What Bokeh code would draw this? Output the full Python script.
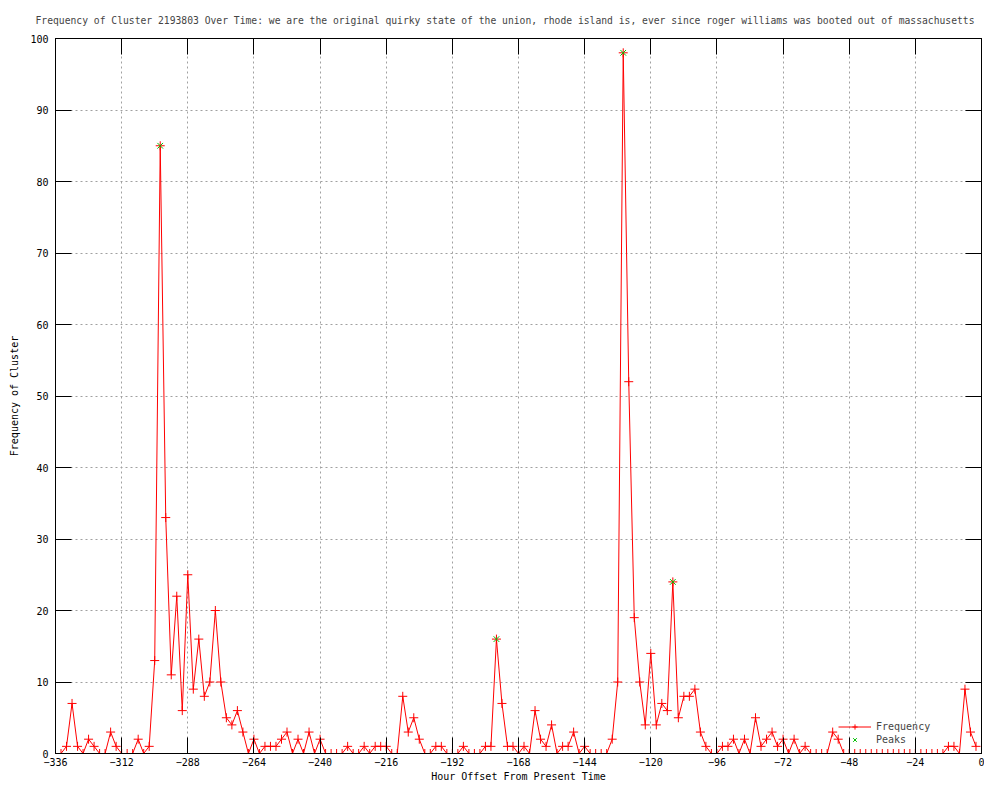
from bokeh.plotting import figure
from bokeh.models import FixedTicker, LinearAxis, Legend, LegendItem, Range1d
from bokeh.embed import file_html
from bokeh.resources import INLINE

TITLE = ("Frequency of Cluster 2193803 Over Time: we are the original quirky state of the union, "
         "rhode island is, ever since roger williams was booted out of massachusetts")

# data: hour offsets (every 2 hours) and cluster frequency
hours = list(range(-336, 0, 2))
freq = [
    0, 0, 1, 7, 1, 0, 2, 1, 0, 0,
    3, 1, 0, 0, 0, 2, 0, 1, 13, 85,
    33, 11, 22, 6, 25, 9, 16, 8, 10, 20,
    10, 5, 4, 6, 3, 0, 2, 0, 1, 1,
    1, 2, 3, 0, 2, 0, 3, 0, 2, 0,
    0, 0, 0, 1, 0, 0, 1, 0, 1, 1,
    1, 0, 0, 8, 3, 5, 2, 0, 0, 1,
    1, 0, 0, 0, 1, 0, 0, 0, 1, 1,
    16, 7, 1, 1, 0, 1, 0, 6, 2, 1,
    4, 0, 1, 1, 3, 0, 1, 0, 0, 0,
    0, 2, 10, 98, 52, 19, 10, 4, 14, 4,
    7, 6, 24, 5, 8, 8, 9, 3, 1, 0,
    0, 1, 1, 2, 0, 2, 0, 5, 1, 2,
    3, 1, 2, 0, 2, 0, 1, 0, 0, 0,
    0, 3, 2, 0, 0, 0, 0, 0, 0, 0,
    0, 0, 0, 0, 0, 0, 0, 0, 0, 0,
    0, 0, 1, 1, 0, 9, 3, 1,
]
peak_hours = [-298, -176, -130, -112]
peak_freq = [85, 16, 98, 24]
x_ticks = list(range(-336, 1, 24))
y_ticks = list(range(0, 101, 10))

FONT = "DejaVu Sans Mono"
FS = "10px"

p = figure(width=984, height=784, output_backend="svg", toolbar_location=None,
           x_range=Range1d(-336, 0), y_range=Range1d(0, 100),
           min_border_left=55, min_border_right=3, min_border_top=38, min_border_bottom=30,
           title=TITLE, background_fill_color="white", border_fill_color="white")

bottom_ax = p.below[0]
left_ax = p.left[0]

p.title.text_font = FONT
p.title.text_font_size = "9.7px"
p.title.text_font_style = "normal"
p.title.align = "left"
p.title.vertical_align = "top"
p.title.offset = -20
p.title.standoff = 22

p.outline_line_color = "black"
p.outline_line_width = 1
p.outline_line_alpha = 1

xt = FixedTicker(ticks=x_ticks)
yt = FixedTicker(ticks=y_ticks)

bottom_ax.ticker = xt
left_ax.ticker = yt
p.xgrid.ticker = xt
p.ygrid.ticker = yt

for g in (p.xgrid, p.ygrid):
    g.grid_line_color = "#a0a0a0"
    g.grid_line_dash = "2 3"
    g.grid_line_width = 1

bottom_ax.axis_label = "Hour Offset From Present Time"
left_ax.axis_label = "Frequency of Cluster"

top_ax = LinearAxis(ticker=xt)
right_ax = LinearAxis(ticker=yt)
p.add_layout(top_ax, "above")
p.add_layout(right_ax, "right")

for ax in (bottom_ax, left_ax, top_ax, right_ax):
    ax.axis_line_color = "black"
    ax.major_tick_line_color = "black"
    ax.major_tick_in = 16
    ax.major_tick_out = 0
    ax.minor_tick_line_color = None
    ax.major_label_text_font = FONT
    ax.major_label_text_font_size = FS
    ax.major_label_text_font_style = "normal"
    ax.major_label_text_color = "black"
    ax.axis_label_text_font = FONT
    ax.axis_label_text_font_size = FS
    ax.axis_label_text_font_style = "normal"
    ax.axis_label_text_color = "black"

bottom_ax.major_label_standoff = 4
bottom_ax.axis_label_standoff = 2
left_ax.major_label_standoff = 7
left_ax.axis_label_standoff = 7

for ax in (top_ax, right_ax):
    ax.major_label_text_font_size = "1px"
    ax.major_label_text_color = None
    ax.major_label_standoff = 0
    ax.axis_label_standoff = 0

line_r = p.line(hours, freq, line_color="#ff0000", line_width=1)
pts_r = p.scatter(hours, freq, marker="cross", size=9, line_color="#ff0000", line_width=1)
peak_r = p.scatter(peak_hours, peak_freq, marker="x", size=8, line_color="#00c000", line_width=1)

legend = Legend(items=[LegendItem(label="Frequency", renderers=[line_r, pts_r]),
                       LegendItem(label="Peaks", renderers=[peak_r])],
                location=(783, 7), orientation="vertical",
                label_text_font=FONT, label_text_font_size=FS,
                glyph_width=33, glyph_height=13, label_height=13, label_standoff=5,
                spacing=0, padding=0, margin=0,
                background_fill_alpha=0, border_line_alpha=0)
p.add_layout(legend, "center")

open("out.html", "w").write(file_html(p, INLINE))
